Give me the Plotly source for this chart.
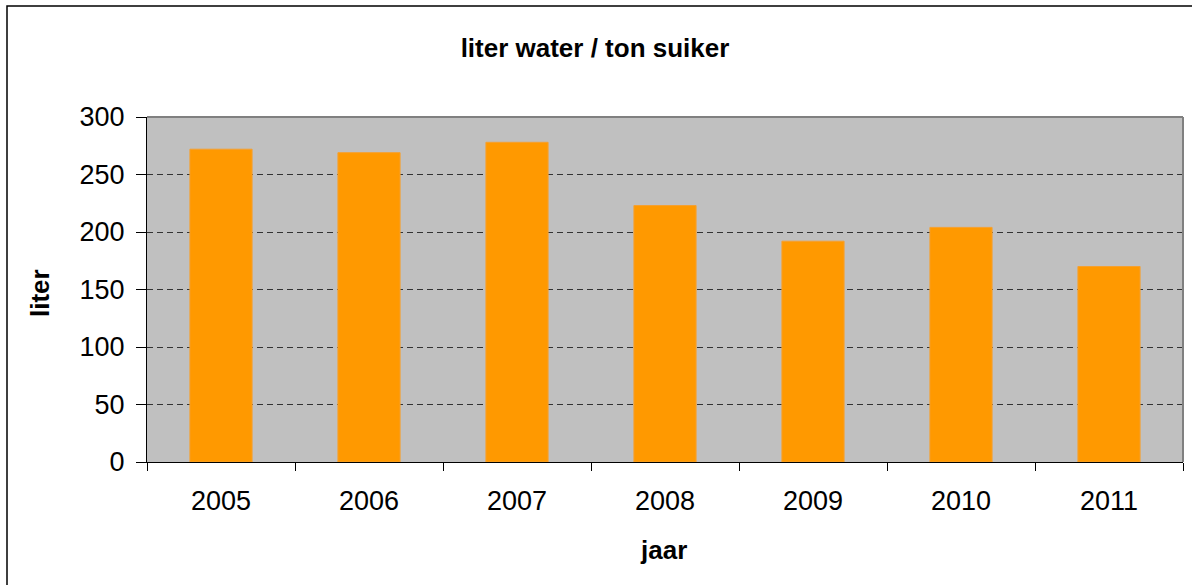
import plotly.graph_objects as go

years = ["2005", "2006", "2007", "2008", "2009", "2010", "2011"]
liters = [272, 269, 278, 223, 192, 204, 170]
y_ticks = [0, 50, 100, 150, 200, 250, 300]

title_text = "liter water / ton suiker"
x_title = "jaar"
y_title = "liter"

FONT = "Liberation Sans, Arial, sans-serif"

fig = go.Figure()
fig.add_trace(go.Bar(
    x=years, y=liters,
    marker=dict(color="#FF9900", line=dict(color="#F5A030", width=1)),
    hoverinfo="x+y",
))

L, R, T, B = 147, 1192 - 1183, 117, 585 - 462
W = 1192 - L - R
H = 585 - T - B

fig.update_layout(
    width=1192, height=585,
    margin=dict(l=L, r=R, t=T, b=B, pad=0),
    paper_bgcolor="white",
    plot_bgcolor="#C0C0C0",
    bargap=0.58,
    showlegend=False,
    font=dict(family=FONT, color="black"),
    title=dict(text=title_text, x=595 / 1192, xanchor="center",
               y=1 - 48 / 585, yanchor="middle",
               font=dict(size=26, family=FONT, weight="bold", color="black")),
)

fig.update_xaxes(
    type="category",
    tickson="boundaries",
    ticks="outside", ticklen=8, tickwidth=1, tickcolor="black",
    showline=True, linecolor="black", linewidth=1,
    showgrid=False,
    tickfont=dict(size=27, family=FONT, color="black"),
    ticklabelstandoff=15,
)
fig.update_yaxes(
    range=[0, 300],
    tickvals=y_ticks,
    ticks="outside", ticklen=10, tickwidth=1, tickcolor="black",
    showline=True, linecolor="black", linewidth=1,
    showgrid=True, gridcolor="#333333", gridwidth=1, griddash="6px,4px",
    zeroline=False,
    tickfont=dict(size=27, family=FONT, color="black"),
    ticklabelstandoff=6,
)

# plot area top/right grey border
fig.add_shape(type="line", xref="paper", yref="paper", x0=0, x1=1, y0=1, y1=1,
              line=dict(color="#808080", width=2))
fig.add_shape(type="line", xref="paper", yref="paper", x0=1, x1=1, y0=0, y1=1,
              line=dict(color="#808080", width=2))

# outer chart border
fig.add_shape(type="rect", xref="paper", yref="paper",
              x0=(7 - L) / W, x1=(1200 - L) / W,
              y0=(462 - 600) / H, y1=(462 - 6) / H,
              line=dict(color="black", width=1.5), fillcolor="rgba(0,0,0,0)")

fig.add_annotation(text=y_title, xref="paper", yref="paper",
                   x=(40 - L) / W, y=(462 - 293) / H, textangle=-90,
                   showarrow=False, xanchor="center", yanchor="middle",
                   font=dict(size=26, family=FONT, weight="bold", color="black"))
fig.add_annotation(text=x_title, xref="paper", yref="paper",
                   x=(663 - L) / W, y=(462 - 550) / H,
                   showarrow=False, xanchor="center", yanchor="middle",
                   font=dict(size=26, family=FONT, weight="bold", color="black"))

fig.write_html("out.html", config={"displayModeBar": False},
               post_script="document.body.style.margin='0';document.body.style.overflow='hidden';")
